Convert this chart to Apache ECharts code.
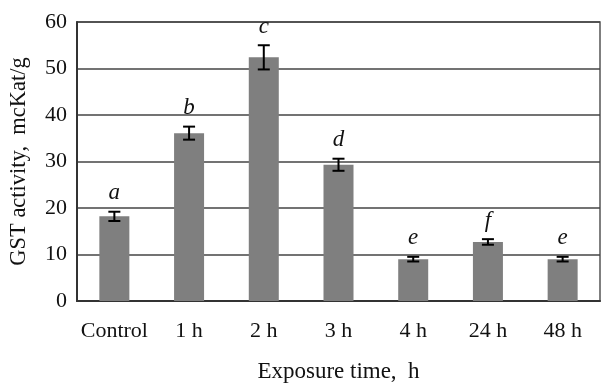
<!DOCTYPE html>
<html>
<head>
<meta charset="utf-8">
<script src="https://cdn.jsdelivr.net/npm/echarts@6/dist/echarts.min.js"></script>
<style>
  html, body { margin: 0; padding: 0; background: #fff; }
  #chart { width: 601px; height: 383px; }
</style>
</head>
<body>
<div id="chart"></div>
<script>
const categories = ['Control', '1 h', '2 h', '3 h', '4 h', '24 h', '48 h'];
const means = [18.2, 36.1, 52.4, 29.3, 9.0, 12.7, 9.0];
const errors = [1.0, 1.4, 2.6, 1.3, 0.5, 0.6, 0.5];
const letters = ['a', 'b', 'c', 'd', 'e', 'f', 'e'];
const yTicks = [0, 10, 20, 30, 40, 50, 60];

const serif = "'Liberation Serif', 'Times New Roman', serif";
const chart = echarts.init(document.getElementById('chart'));

const errData = means.map((m, i) => [i, m, errors[i]]);

chart.setOption({
  animation: false,
  grid: {
    left: 77, right: 1, top: 22, bottom: 82,
    outerBoundsMode: 'none',
    show: true, borderColor: '#555', borderWidth: 1.5
  },
  xAxis: {
    type: 'category',
    data: categories,
    axisTick: { show: false },
    axisLine: { lineStyle: { color: '#333', width: 2 } },
    axisLabel: { color: '#111', fontFamily: serif, fontSize: 22, margin: 19, interval: 0 },
    name: 'Exposure time,  h',
    nameLocation: 'middle',
    nameGap: 59,
    nameTextStyle: { color: '#111', fontFamily: serif, fontSize: 23 }
  },
  yAxis: {
    type: 'value',
    min: yTicks[0],
    max: yTicks[yTicks.length - 1],
    interval: 10,
    axisLine: { show: true, lineStyle: { color: '#333', width: 2 } },
    axisTick: { show: false },
    splitLine: { lineStyle: { color: '#444', width: 1.5 } },
    axisLabel: { color: '#111', fontFamily: serif, fontSize: 22, margin: 10 },
    name: 'GST activity,  mcKat/g',
    nameLocation: 'middle',
    nameGap: 46,
    nameTextStyle: { color: '#111', fontFamily: serif, fontSize: 22.5 }
  },
  series: [
    {
      type: 'bar',
      data: means,
      barWidth: 30,
      itemStyle: { color: '#7f7f7f' }
    },
    {
      type: 'custom',
      data: errData,
      z: 10,
      renderItem: function (params, api) {
        const i = api.value(0), m = api.value(1), e = api.value(2);
        const top = api.coord([i, m + e]);
        const bot = api.coord([i, m - e]);
        const hw = 6;
        const st = { stroke: '#000', lineWidth: 2 };
        return {
          type: 'group',
          children: [
            { type: 'line', shape: { x1: top[0], y1: top[1], x2: bot[0], y2: bot[1] }, style: st },
            { type: 'line', shape: { x1: top[0] - hw, y1: top[1], x2: top[0] + hw, y2: top[1] }, style: st },
            { type: 'line', shape: { x1: bot[0] - hw, y1: bot[1], x2: bot[0] + hw, y2: bot[1] }, style: st },
            {
              type: 'text',
              style: {
                x: top[0], y: top[1] - 7,
                text: letters[params.dataIndex],
                textAlign: 'center', textVerticalAlign: 'bottom',
                font: 'italic 23px ' + serif,
                fill: '#111'
              }
            }
          ]
        };
      }
    }
  ]
});
</script>
</body>
</html>
